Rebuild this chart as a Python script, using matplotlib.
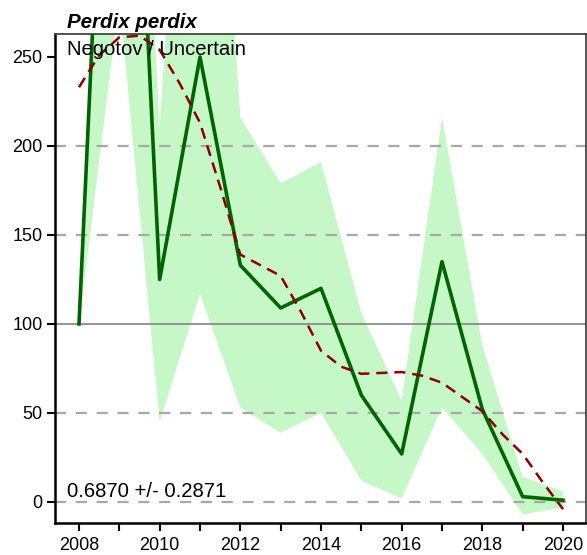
import numpy as np
import matplotlib
matplotlib.use("Agg")
import matplotlib.pyplot as plt

plt.rcParams['font.family'] = ['Liberation Sans', 'DejaVu Sans']
plt.rcParams['lines.scale_dashes'] = False

# yearly index (base year = 100) with confidence band
years = [2008, 2009, 2010, 2011, 2012, 2013, 2014, 2015, 2016, 2017, 2018, 2019, 2020]
index = [100, 590, 125, 250, 133, 109, 120, 60, 27, 135, 52, 3, 1]
upper = [100, 640, 210, 560, 216, 179, 191, 106, 57, 216, 88, 14, 6]
lower = [100, 283, 45, 117, 53, 39, 50, 12, 2, 53, 27, -7, -3]

# smoothed trend, read every half year
trend_years = [2008, 2008.5, 2009, 2009.5, 2010, 2010.5, 2011, 2011.5, 2012, 2012.5,
               2013, 2013.5, 2014, 2014.5, 2015, 2015.5, 2016, 2016.5, 2017, 2017.5,
               2018, 2018.5, 2019, 2019.5, 2020]
trend = [233, 251, 261, 262, 254, 235, 213, 177, 139, 133,
         127, 107, 85, 76, 72, 72.5, 73, 71, 67, 59,
         51, 38, 27, 11, -4]

species = "Perdix perdix"
subtitle = "Negotov / Uncertain"
slope_text = "0.6870 +/- 0.2871"

fig = plt.figure(figsize=(5.87, 5.55), dpi=100)
ax = fig.add_axes([55 / 587, 1 - 523 / 555, 531 / 587, 489 / 555])

ax.fill_between(years, lower, upper, color='#c6f7c6', linewidth=0, zorder=1)

for y in [0, 50, 150, 200]:
    ax.axhline(y, color='#a8a8a8', linewidth=1.6, dashes=(8, 7), zorder=2)
ax.axhline(100, color='#8c8c8c', linewidth=1.3, zorder=2)

ax.plot(years, index, color='#006400', linewidth=2.6, zorder=3)
ax.plot(trend_years, trend, color='#8b0000', linewidth=1.8, dashes=(8, 5), zorder=4)

ax.set_xlim(2007.405, 2020.57)
ax.set_ylim(-11.8, 262.9)

ax.set_xticks([2008, 2010, 2012, 2014, 2016, 2018, 2020])
ax.set_xticks(range(2009, 2020, 2), minor=True)
ax.set_yticks([0, 50, 100, 150, 200, 250])
ax.tick_params(axis='both', which='both', direction='out', length=6, width=1.5,
               labelsize=13, colors='black')
ax.tick_params(axis='x', pad=4)
ax.tick_params(axis='y', pad=3)

for side in ['left', 'bottom']:
    ax.spines[side].set_linewidth(1.8)
    ax.spines[side].set_color('black')
for side in ['top', 'right']:
    ax.spines[side].set_linewidth(1.3)
    ax.spines[side].set_color('#444444')

ax.text(0.023, 0.957, subtitle, transform=ax.transAxes, fontsize=14.6,
        ha='left', va='baseline', zorder=5)
ax.text(0.023, 0.0532, slope_text, transform=ax.transAxes, fontsize=14.6,
        ha='left', va='baseline', zorder=5)
fig.text(67 / 587, 1 - 28.5 / 555, species, fontsize=14.8, fontweight='bold',
         fontstyle='italic', ha='left', va='baseline')

fig.savefig("out.png", dpi=100)
